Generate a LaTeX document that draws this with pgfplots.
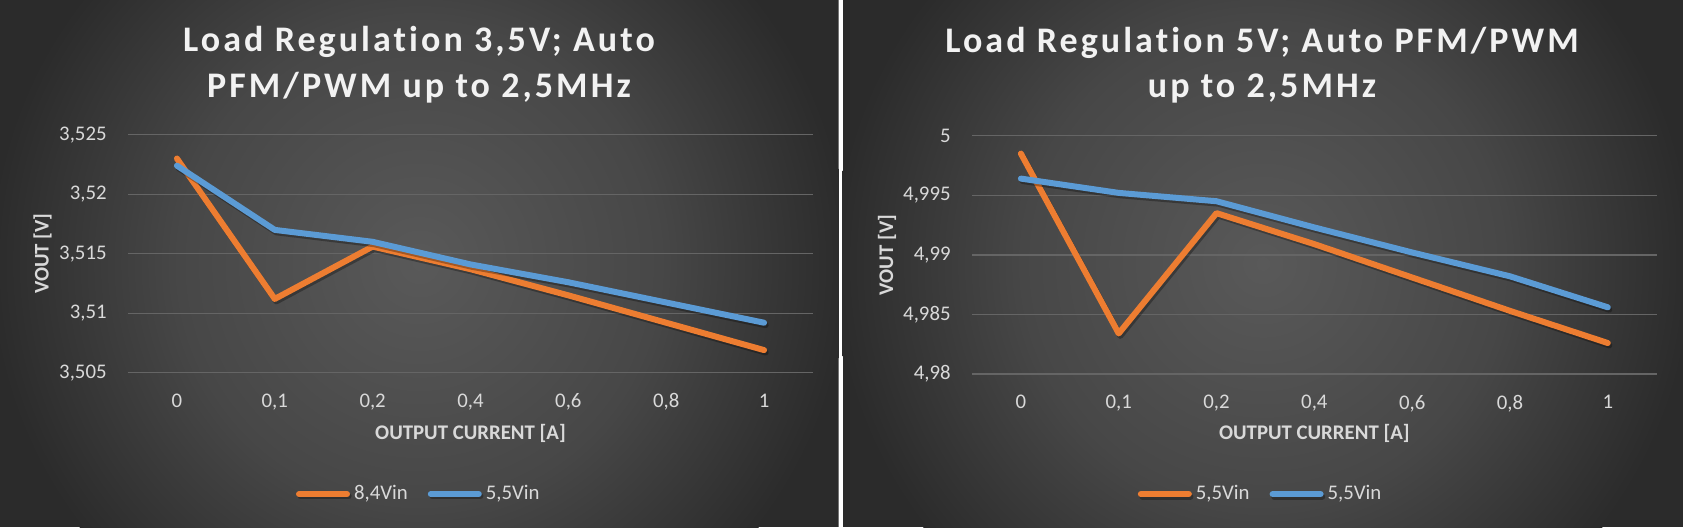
\documentclass[border=0pt]{standalone}
\usepackage{pgfplots}
\pgfplotsset{compat=1.18}
\usepackage{fontspec}
\setmainfont[Ligatures=NoCommon]{Carlito}
\newfontfamily\titlefont[LetterSpace=8.5,Ligatures=NoCommon]{Carlito}
\definecolor{orng}{HTML}{ED7D31}
\definecolor{blu}{HTML}{5B9BD5}
\definecolor{tickgray}{HTML}{D9D9D9}
\definecolor{gridc}{HTML}{656565}
\definecolor{bgcA}{HTML}{595959}
\definecolor{bgcB}{HTML}{474747}
\definecolor{bgcC}{HTML}{2B2B2B}
\pgfdeclareradialshading{bgshade}{\pgfpoint{0bp}{0bp}}{color(0bp)=(bgcA); color(14bp)=(bgcB); color(25bp)=(bgcC); color(50bp)=(bgcC)}

\pgfplotsset{
  panel/.style={
    scale only axis, anchor=south west,
    xmin=-0.5, xmax=6.5,
    xtick={0,1,2,3,4,5,6},
    xticklabels={0,{0,1},{0,2},{0,4},{0,6},{0,8},1},
    axis line style={draw=none},
    major tick length=0pt,
    tick style={draw=none},
    ymajorgrids,
    grid style={gridc, line width=0.7pt},
    tick label style={font=\fontsize{10.4pt}{12pt}\selectfont, text=tickgray},
    xticklabel style={inner sep=0pt, yshift=-10.3pt},
    yticklabel style={inner sep=0pt, xshift=-10.5pt},
    label style={font=\bfseries\fontsize{10.4pt}{12pt}\selectfont, text=tickgray},
    xlabel={OUTPUT CURRENT [A]},
    ylabel={VOUT [V]},
    title style={font=\titlefont\bfseries\fontsize{18pt}{22.8pt}\selectfont, text=white!95!black, align=center, anchor=north, inner sep=0pt},
    legend style={draw=none, fill=none, legend columns=2, font=\fontsize{10.4pt}{12pt}\selectfont, text=tickgray, anchor=center,
      /tikz/every even column/.append style={column sep=8pt}},
    legend image code/.code={\draw[##1, line cap=round] (0pt,0pt) -- (24pt,0pt);},
    every axis plot/.append style={line width=3pt, line cap=round, line join=round},
  },
  shadowed/.style={preaction={draw=black, draw opacity=0.3, line width=3pt, transform canvas={xshift=0.8pt, yshift=-1.2pt}}},
}

\begin{document}
\begin{tikzpicture}
\begin{scope}
  \clip (0,0) rectangle (419.25pt,263.5pt);
  \fill[bgcC] (0,0) rectangle (419.25pt,263.5pt);
  \shade[shading=bgshade] (209.6pt,131.75pt) circle (215pt);
\end{scope}
\fill[white] (419.25pt,0) rectangle (421.25pt,263.5pt);
\begin{scope}
  \clip (421.25pt,0) rectangle (841.5pt,263.5pt);
  \fill[bgcC] (421.25pt,0) rectangle (841.5pt,263.5pt);
  \shade[shading=bgshade] (631.4pt,131.75pt) circle (215pt);
\end{scope}

\begin{axis}[panel,
  at={(64pt,77.15pt)}, width=342.5pt, height=119pt,
  ymin=3.505, ymax=3.525,
  ytick={3.505,3.51,3.515,3.52,3.525},
  yticklabels={{3,505},{3,51},{3,515},{3,52},{3,525}},
  xlabel style={at={(axis description cs:0.5,-0.256)}, anchor=center},
  ylabel style={at={(axis description cs:-0.1248,0.5)}, anchor=center},
  title={Load Regulation 3,5V; Auto\\PFM/PWM up to 2,5MHz},
  title style={at={(axis description cs:0.4248,1.405)}},
  legend style={at={(axis description cs:0.426,-0.51)}},
]
\addplot[orng, shadowed] coordinates {(0,3.5230) (1,3.5112) (2,3.5156) (3,3.5137) (4,3.5115) (5,3.5092) (6,3.5069)};
\addlegendentry{8,4Vin}
\addplot[blu, shadowed] coordinates {(0,3.5224) (1,3.5170) (2,3.5160) (3,3.5141) (4,3.5126) (5,3.5109) (6,3.5092)};
\addlegendentry{5,5Vin}
\end{axis}

\begin{axis}[panel,
  at={(486pt,76.5pt)}, width=342.35pt, height=119.15pt,
  ymin=4.98, ymax=5,
  ytick={4.98,4.985,4.99,4.995,5},
  yticklabels={{4,98},{4,985},{4,99},{4,995},5},
  xlabel style={at={(axis description cs:0.5,-0.2505)}, anchor=center},
  ylabel style={at={(axis description cs:-0.124,0.5)}, anchor=center},
  title={Load Regulation 5V; Auto PFM/PWM\\up to 2,5MHz},
  title style={at={(axis description cs:0.4235,1.408)}},
  legend style={at={(axis description cs:0.423,-0.504)}},
]
\addplot[orng, shadowed] coordinates {(0,4.9985) (1,4.9834) (2,4.9935) (3,4.9909) (4,4.9881) (5,4.9853) (6,4.9826)};
\addlegendentry{5,5Vin}
\addplot[blu, shadowed] coordinates {(0,4.9964) (1,4.9952) (2,4.9945) (3,4.9923) (4,4.9902) (5,4.9882) (6,4.9856)};
\addlegendentry{5,5Vin}
\end{axis}

\pgfresetboundingbox
\path[use as bounding box] (0,0) rectangle (841.5pt,263.5pt);
\end{tikzpicture}
\end{document}
